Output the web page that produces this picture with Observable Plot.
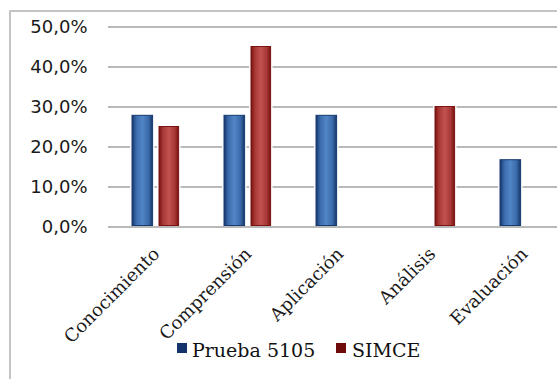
<!DOCTYPE html>
<html>
<head>
<meta charset="utf-8">
<script src="https://cdn.jsdelivr.net/npm/d3@7"></script>
<script src="https://cdn.jsdelivr.net/npm/@observablehq/plot@0.6"></script>
<style>
  html, body { margin: 0; padding: 0; background: #fff; overflow: hidden; }
  #wrap { position: relative; width: 557px; height: 379px; overflow: hidden; }
  #frame { position: absolute; left: 9px; top: 10px; width: 640px; height: 460px;
           border-left: 2px solid #c4c4c4; border-top: 2px solid #c4c4c4; box-sizing: border-box; }
  #chart { position: absolute; left: 0; top: 0; }
  .lg-sw { position: absolute; width: 10px; height: 10px; }
  .lg-tx { position: absolute; font-family: "DejaVu Serif", serif; font-size: 19px; line-height: 19px; color: #111; white-space: nowrap; }
</style>
</head>
<body>
<svg width="0" height="0" style="position:absolute">
  <defs>
    <linearGradient id="gBlue" x1="0" x2="1" y1="0" y2="0">
      <stop offset="0" stop-color="#15356a"/>
      <stop offset="0.2" stop-color="#3a6aa9"/>
      <stop offset="0.5" stop-color="#5286c6"/>
      <stop offset="0.8" stop-color="#3a6aa9"/>
      <stop offset="1" stop-color="#15356a"/>
    </linearGradient>
    <linearGradient id="gRed" x1="0" x2="1" y1="0" y2="0">
      <stop offset="0" stop-color="#761010"/>
      <stop offset="0.2" stop-color="#a83836"/>
      <stop offset="0.5" stop-color="#c2524e"/>
      <stop offset="0.8" stop-color="#a83836"/>
      <stop offset="1" stop-color="#761010"/>
    </linearGradient>
  </defs>
</svg>
<div id="wrap">
  <div id="frame"></div>
  <div id="chart"></div>
  <div class="lg-sw" style="left:177px;top:343px;background:#15336b"></div>
  <div class="lg-tx" id="lg1" style="left:192px;top:341px"></div>
  <div class="lg-sw" style="left:336px;top:343px;background:#6e0c0c"></div>
  <div class="lg-tx" id="lg2" style="left:352px;top:341px"></div>
</div>
<script>
const categories = ["Conocimiento", "Comprensión", "Aplicación", "Análisis", "Evaluación"];
const seriesNames = ["Prueba 5105", "SIMCE"];
const prueba5105 = [27.8, 27.8, 27.8, 0, 16.7];
const simce = [25.0, 45.0, 0, 30.0, 0];
const yTicks = [0, 10, 20, 30, 40, 50];

const rowsP = categories.map((c, i) => ({category: c, series: seriesNames[0], value: prueba5105[i]})).filter(d => d.value > 0);
const rowsS = categories.map((c, i) => ({category: c, series: seriesNames[1], value: simce[i]})).filter(d => d.value > 0);

const fmt = d => d.toFixed(1).replace(".", ",") + "%";

const chart = Plot.plot({
  width: 557,
  height: 379,
  marginLeft: 108,
  marginRight: 0,
  marginTop: 26.5,
  marginBottom: 152.5,
  style: {background: "transparent", color: "#1a1a1a"},
  x: {domain: categories, range: [109, 571], padding: 0},
  y: {domain: [0, 50]},
  marks: [
    Plot.gridY(yTicks, {stroke: "#a2a2a2", strokeOpacity: 1, strokeWidth: 1.6}),
    // white halo behind bars
    Plot.barY(rowsP, {x: "category", y: "value", fill: "white", insetLeft: 20, insetRight: 47.4, insetTop: -2, insetBottom: 1}),
    Plot.barY(rowsS, {x: "category", y: "value", fill: "white", insetLeft: 47, insetRight: 21.4, insetTop: -2, insetBottom: 1}),
    Plot.barY(rowsP, {x: "category", y: "value", fill: "url(#gBlue)", stroke: "#173a70", strokeWidth: 1, insetLeft: 22, insetRight: 49.4, insetBottom: 1}),
    Plot.barY(rowsS, {x: "category", y: "value", fill: "url(#gRed)", stroke: "#7a1313", strokeWidth: 1, insetLeft: 49, insetRight: 23.4, insetBottom: 1}),
    Plot.axisY({ticks: yTicks, tickFormat: fmt, tickSize: 0, tickPadding: 21, fontSize: 18, fontFamily: "DejaVu Sans", label: null}),
    Plot.axisX({tickRotate: -45, tickSize: 0, tickPadding: 24, fontSize: 18, fontFamily: "DejaVu Serif", label: null})
  ]
});
document.getElementById("chart").appendChild(chart);
document.getElementById("lg1").textContent = seriesNames[0];
document.getElementById("lg2").textContent = seriesNames[1];
</script>
</body>
</html>
